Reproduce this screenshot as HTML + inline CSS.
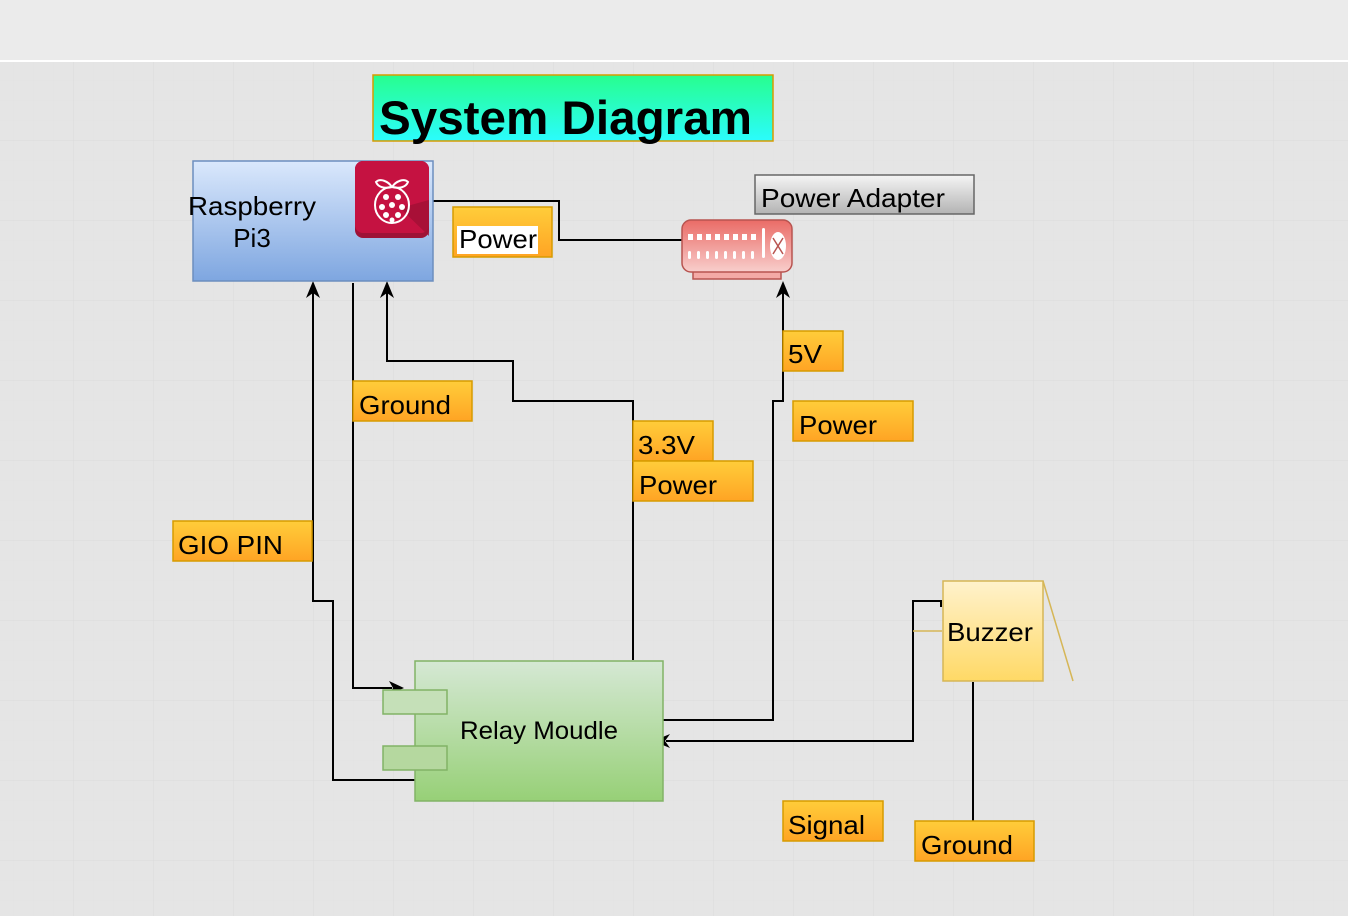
<!DOCTYPE html>
<html><head><meta charset="utf-8"><style>
body{margin:0;width:1348px;height:916px;overflow:hidden;background:#e5e5e5;font-family:"Liberation Sans",sans-serif}
svg{position:absolute;left:0;top:0}
</style></head><body>
<svg width="1348" height="916" xmlns="http://www.w3.org/2000/svg">
<defs>
<pattern id="minor" x="13" y="0" width="20" height="20" patternUnits="userSpaceOnUse"><path d="M0 0V20M0 0H20" stroke="#e2e2e2" stroke-width="1" fill="none"/></pattern>
<pattern id="major" x="73" y="60" width="80" height="80" patternUnits="userSpaceOnUse"><path d="M0 0V80M0 0H80" stroke="#dadada" stroke-width="1" fill="none"/></pattern>
<linearGradient id="title" x1="0" y1="0" x2="0" y2="1"><stop offset="0" stop-color="#27fe8e"/><stop offset="1" stop-color="#2bfcfd"/></linearGradient>
<linearGradient id="blue" x1="0" y1="0" x2="0" y2="1"><stop offset="0" stop-color="#dae8fc"/><stop offset="1" stop-color="#7ea6e0"/></linearGradient>
<linearGradient id="org" x1="0" y1="0" x2="0" y2="1"><stop offset="0" stop-color="#ffcd3a"/><stop offset="1" stop-color="#ffa424"/></linearGradient>
<linearGradient id="green" x1="0" y1="0" x2="0" y2="1"><stop offset="0" stop-color="#d5e8d4"/><stop offset="1" stop-color="#97d077"/></linearGradient>
<linearGradient id="yel" x1="0" y1="0" x2="0" y2="1"><stop offset="0" stop-color="#fff2cc"/><stop offset="1" stop-color="#ffd966"/></linearGradient>
<linearGradient id="gray" x1="0" y1="0" x2="0" y2="1"><stop offset="0" stop-color="#f5f5f5"/><stop offset="1" stop-color="#b3b3b3"/></linearGradient>
<linearGradient id="red" x1="0" y1="0" x2="0" y2="1"><stop offset="0" stop-color="#ea6b66"/><stop offset="1" stop-color="#f8cecc"/></linearGradient>
</defs>
<rect x="0" y="62" width="1348" height="854" fill="url(#minor)"/>
<rect x="0" y="62" width="1348" height="854" fill="url(#major)"/>
<rect x="0" y="0" width="1348" height="60" fill="#ebebeb"/>
<rect x="0" y="60" width="1348" height="2" fill="#fff"/>

<rect x="373" y="75" width="400" height="66" fill="url(#title)" stroke="#d79b00" stroke-width="1.5"/>
<text x="379" y="134" font-size="47" font-weight="bold" fill="#000" textLength="373" lengthAdjust="spacingAndGlyphs">System Diagram</text>

<g stroke="#000" stroke-width="2" fill="none">
<path d="M433 201H559V240H682"/>
<path d="M415 780H333V601H313V292"/>
<path d="M353 283V688H392"/>
<path d="M633 660V401H513V361H387V292"/>
<path d="M663 720H773V401H783V292"/>
<path d="M941 607V601H913V741H666"/>
<path d="M973 682V821"/>
</g>
<g fill="#000">
<path d="M313 281L306 298L313 293L320 298Z"/>
<path d="M387 281L380 298L387 293L394 298Z"/>
<path d="M783 281L776 298L783 293L790 298Z"/>
<path d="M404 688L389 681L393 688L389 695Z"/>
<path d="M653 741L670 734L665 741L670 748Z"/>
</g>
<path d="M913 631H942" stroke="#d6b656" stroke-width="1.5"/>
<path d="M1043 581L1073 681" stroke="#d6b656" stroke-width="1.5"/>

<rect x="193" y="161" width="240" height="120" fill="url(#blue)" stroke="#6c8ebf" stroke-width="1.5"/>
<text x="252" y="215" font-size="26" text-anchor="middle" textLength="128" lengthAdjust="spacingAndGlyphs">Raspberry</text>
<text x="252" y="247" font-size="26" text-anchor="middle">Pi3</text>
<rect x="355" y="161" width="74" height="77" rx="8" fill="#9e1237"/>
<rect x="355" y="161" width="74" height="72" rx="8" fill="#c51241"/>
<path d="M400 208L429 236V200Z" fill="#a01035" opacity="0.8"/>
<g fill="none" stroke="#fff" stroke-width="2">
<ellipse cx="392" cy="205" rx="17" ry="18"/>
<path d="M392 187c-4-6-12-9-16-5c2 5 8 7 16 5zM392 187c4-6 12-9 16-5c-2 5-8 7-16 5z"/>
</g>
<g fill="#fff"><circle cx="386" cy="197" r="3"/><circle cx="398" cy="197" r="3"/><circle cx="392" cy="205" r="3"/><circle cx="382" cy="207" r="3"/><circle cx="402" cy="207" r="3"/><circle cx="386" cy="215" r="3"/><circle cx="398" cy="215" r="3"/><circle cx="392" cy="220" r="2.5"/></g>

<rect x="755" y="175" width="219" height="39" fill="url(#gray)" stroke="#666" stroke-width="1.5"/>
<text x="761" y="207" font-size="26" textLength="184" lengthAdjust="spacingAndGlyphs">Power Adapter</text>
<rect x="693" y="266" width="88" height="13" fill="#f4aaa6" stroke="#b85450" stroke-width="1.5"/>
<rect x="682" y="220" width="110" height="52" rx="9" fill="url(#red)" stroke="#b85450" stroke-width="1.5"/>
<g fill="#fff">
<rect x="688" y="234" width="5" height="6"/><rect x="697" y="234" width="5" height="6"/><rect x="706" y="234" width="5" height="6"/><rect x="715" y="234" width="5" height="6"/><rect x="724" y="234" width="5" height="6"/><rect x="733" y="234" width="5" height="6"/><rect x="742" y="234" width="5" height="6"/><rect x="751" y="234" width="5" height="6"/>
<rect x="688" y="251" width="3" height="8" rx="1.5"/><rect x="697" y="251" width="3" height="8" rx="1.5"/><rect x="706" y="251" width="3" height="8" rx="1.5"/><rect x="715" y="251" width="3" height="8" rx="1.5"/><rect x="724" y="251" width="3" height="8" rx="1.5"/><rect x="733" y="251" width="3" height="8" rx="1.5"/><rect x="742" y="251" width="3" height="8" rx="1.5"/><rect x="751" y="251" width="3" height="8" rx="1.5"/>
<rect x="762" y="228" width="3" height="30" rx="1.5"/>
<ellipse cx="778" cy="246" rx="8" ry="14"/>
</g>
<path d="M773 238L783 254M783 238L773 254" stroke="#b85450" stroke-width="1.5"/>

<g stroke="#d79b00" stroke-width="1.5" fill="url(#org)">
<rect x="453" y="207" width="99" height="50"/>
<rect x="783" y="331" width="60" height="40"/>
<rect x="353" y="381" width="119" height="40"/>
<rect x="793" y="401" width="120" height="40"/>
<rect x="633" y="421" width="80" height="40"/>
<rect x="633" y="461" width="120" height="40"/>
<rect x="173" y="521" width="139" height="40"/>
<rect x="783" y="801" width="100" height="40"/>
<rect x="915" y="821" width="119" height="40"/>
</g>
<rect x="457" y="226" width="81" height="28" fill="#fff"/>
<g font-size="26" fill="#000" lengthAdjust="spacingAndGlyphs">
<text x="459" y="248" textLength="78" lengthAdjust="spacingAndGlyphs">Power</text>
<text x="788" y="363" textLength="34" lengthAdjust="spacingAndGlyphs">5V</text>
<text x="359" y="414" textLength="92" lengthAdjust="spacingAndGlyphs">Ground</text>
<text x="799" y="434" textLength="78" lengthAdjust="spacingAndGlyphs">Power</text>
<text x="638" y="454" textLength="57" lengthAdjust="spacingAndGlyphs">3.3V</text>
<text x="639" y="494" textLength="78" lengthAdjust="spacingAndGlyphs">Power</text>
<text x="178" y="554" textLength="105" lengthAdjust="spacingAndGlyphs">GIO PIN</text>
<text x="788" y="834" textLength="77" lengthAdjust="spacingAndGlyphs">Signal</text>
<text x="921" y="854" textLength="92" lengthAdjust="spacingAndGlyphs">Ground</text>
</g>

<rect x="415" y="661" width="248" height="140" fill="url(#green)" stroke="#82b366" stroke-width="1.5"/>
<rect x="383" y="690" width="64" height="24" fill="#c5e0b8" stroke="#82b366" stroke-width="1.5"/>
<rect x="383" y="746" width="64" height="24" fill="#b5d89f" stroke="#82b366" stroke-width="1.5"/>
<text x="460" y="739" font-size="25" textLength="158" lengthAdjust="spacingAndGlyphs">Relay Moudle</text>

<rect x="943" y="581" width="100" height="100" fill="url(#yel)" stroke="#d6b656" stroke-width="1.5"/>
<text x="947" y="641" font-size="26" textLength="86" lengthAdjust="spacingAndGlyphs">Buzzer</text>
</svg>
</body></html>
